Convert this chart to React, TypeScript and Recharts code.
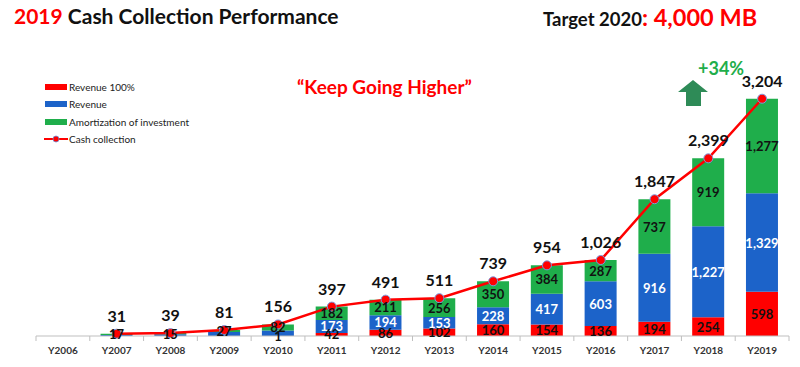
import React from "react";
import {
  ComposedChart,
  Bar,
  Line,
  XAxis,
  YAxis,
  LabelList,
} from "recharts";

const years = [
  "Y2006", "Y2007", "Y2008", "Y2009", "Y2010", "Y2011", "Y2012",
  "Y2013", "Y2014", "Y2015", "Y2016", "Y2017", "Y2018", "Y2019",
];
const revenue100 = [0, 0, 0, 0, 1, 42, 86, 102, 160, 154, 136, 194, 254, 598];
const revenue = [0, 14, 24, 54, 73, 173, 194, 153, 228, 417, 603, 916, 1227, 1329];
const amortization = [0, 17, 15, 27, 82, 182, 211, 256, 350, 384, 287, 737, 919, 1277];
const cashCollection = [null, 31, 39, 81, 156, 397, 491, 511, 739, 954, 1026, 1847, 2399, 3204];

const RED = "#ff0000";
const BLUE = "#1c63c9";
const GREEN = "#1fae4b";
const FONT = "Lato, 'Open Sans', sans-serif";

const data = years.map((y, i) => ({
  year: y,
  red: revenue100[i],
  blue: revenue[i],
  green: amortization[i],
  cash: cashCollection[i],
}));

const W = 800;
const H = 367;
const LEFT = 36;
const RIGHT = 11;
const band = (W - LEFT - RIGHT) / years.length;

const fmt = (v: any) => (v == null ? "" : Number(v).toLocaleString("en-US"));

const legendItems = [
  { label: "Revenue 100%", color: RED, type: "bar" },
  { label: "Revenue", color: BLUE, type: "bar" },
  { label: "Amortization of investment", color: GREEN, type: "bar" },
  { label: "Cash collection", color: RED, type: "line" },
];

function LegendBox() {
  return (
    <div style={{ position: "absolute", left: 44, top: 78, fontFamily: FONT, fontSize: 10, color: "#222" }}>
      {legendItems.map((it) => (
        <div key={it.label} style={{ display: "flex", alignItems: "center", height: 17.5 }}>
          <svg width={24} height={10} style={{ marginRight: 1 }}>
            {it.type === "bar" ? (
              <rect x={1} y={2} width={22} height={6} fill={it.color} />
            ) : (
              <g>
                <line x1={0} y1={5} x2={24} y2={5} stroke={it.color} strokeWidth={2} />
                <circle cx={12} cy={5} r={3} fill={RED} stroke="#6a8fd8" strokeWidth={0.8} />
              </g>
            )}
          </svg>
          <span>{it.label}</span>
        </div>
      ))}
    </div>
  );
}

function Tick(props: any) {
  const { x, y, payload } = props;
  return (
    <g>
      <line x1={x - band / 2} y1={y - 8} x2={x - band / 2} y2={y - 3} stroke="#bfbfbf" />
      {payload.index === years.length - 1 && (
        <line x1={x + band / 2} y1={y - 8} x2={x + band / 2} y2={y - 3} stroke="#bfbfbf" />
      )}
      <text x={x} y={y + 10} textAnchor="middle" fontFamily={FONT} fontWeight={700} fontSize={10} fill="#333">
        {payload.value}
      </text>
    </g>
  );
}

function CashDot(props: any) {
  const { cx, cy, value } = props;
  if (value == null || cx == null) return null;
  return <circle cx={cx} cy={cy} r={4.5} fill={RED} stroke="#7a9ce0" strokeWidth={1} />;
}

const segLabel = (color: string, min: number) => (props: any) => {
  const { x, y, width, height, value } = props;
  if (value == null || value < min) return null;
  return (
    <text
      x={x + width / 2}
      y={y + height / 2}
      dy={5}
      textAnchor="middle"
      fontFamily={FONT}
      fontWeight={700}
      fontSize={13}
      fill={color}
    >
      {fmt(value)}
    </text>
  );
};

export default function App() {
  return (
    <div style={{ position: "fixed", left: 0, top: 0, width: W, height: H, background: "#fff", fontFamily: FONT }}>
      <div style={{ position: "absolute", left: 14, top: 3, fontSize: 21, fontWeight: 700, color: "#111" }}>
        <span style={{ color: RED }}>2019</span> Cash Collection Performance
      </div>
      <div style={{ position: "absolute", left: 543, top: 3, fontWeight: 700, color: "#111", whiteSpace: "nowrap" }}>
        <span style={{ fontSize: 18.5 }}>Target 2020</span>
        <span style={{ fontSize: 23.5, color: RED }}>: 4,000 MB</span>
      </div>
      <div style={{ position: "absolute", left: 297, top: 75, fontSize: 19, fontWeight: 700, color: RED }}>
        “Keep Going Higher”
      </div>
      <div style={{ position: "absolute", left: 698, top: 57, fontSize: 18, fontWeight: 700, color: GREEN }}>
        +34%
      </div>
      <svg style={{ position: "absolute", left: 678, top: 80 }} width={32} height={27}>
        <polygon points="15,0 30,12 23,12 23,26 8,26 8,12 0,12" fill="#2e8b57" />
      </svg>
      <LegendBox />
      <div style={{ position: "absolute", left: 0, top: 0 }}>
        <ComposedChart
          width={W}
          height={H}
          data={data}
          margin={{ top: 62, right: RIGHT, bottom: 7, left: LEFT }}
          barCategoryGap="20%"
        >
          <XAxis
            dataKey="year"
            height={24}
            stroke="#bfbfbf"
            tickLine={false}
            tick={<Tick />}
            interval={0}
          />
          <YAxis hide domain={[0, 3700]} />
          <Bar dataKey="red" stackId="a" fill={RED} isAnimationActive={false}>
            <LabelList dataKey="red" content={segLabel("#111", 1)} />
          </Bar>
          <Bar dataKey="blue" stackId="a" fill={BLUE} isAnimationActive={false}>
            <LabelList dataKey="blue" content={segLabel("#fff", 100)} />
          </Bar>
          <Bar dataKey="green" stackId="a" fill={GREEN} isAnimationActive={false}>
            <LabelList dataKey="green" content={segLabel("#111", 1)} />
          </Bar>
          <Line
            dataKey="cash"
            stroke={RED}
            strokeWidth={2.5}
            dot={<CashDot />}
            activeDot={false}
            isAnimationActive={false}
          >
            <LabelList
              dataKey="cash"
              position="top"
              offset={12}
              formatter={fmt}
              style={{ fontFamily: FONT, fontWeight: 700, fontSize: 16, fill: "#111" }}
            />
          </Line>
        </ComposedChart>
      </div>
    </div>
  );
}
